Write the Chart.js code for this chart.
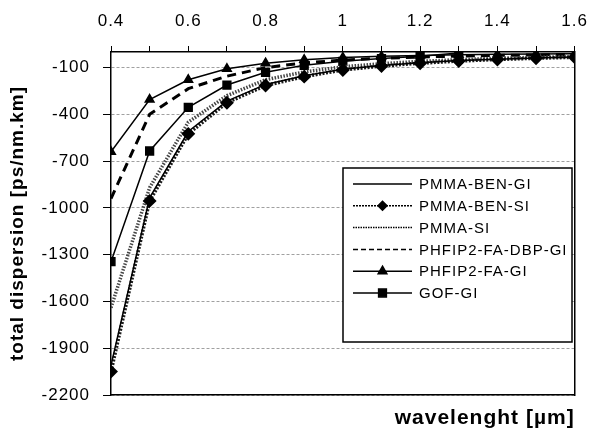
<!DOCTYPE html>
<html>
<head>
<meta charset="utf-8">
<script src="https://cdn.jsdelivr.net/npm/chart.js@4"></script>
<style>
    html, body { margin: 0; padding: 0; background: #fff; }
    #wrap { width: 602px; height: 435px; }
</style>
</head>
<body>
<div id="wrap"><canvas id="dispersionChart" width="602" height="435"></canvas></div>
<script>
// wavelength in µm, dispersion in ps/nm.km
const wavelengths = [0.4, 0.5, 0.6, 0.7, 0.8, 0.9, 1.0, 1.1, 1.2, 1.3, 1.4, 1.5, 1.6];
const pmmaBenGi = [-2010, -935, -510, -315, -208, -152, -110, -86, -69, -55, -46, -38, -32];
const pmmaBenSi = [-2050, -955, -525, -325, -215, -158, -115, -90, -72, -58, -48, -40, -34];
const pmmaSi = [-1640, -870, -450, -280, -178, -128, -95, -75, -60, -49, -40, -34, -29];
const phfipDbpGi = [-940, -400, -235, -155, -100, -70, -52, -40, -32, -26, -22, -19, -16];
const phfipFaGi = [-640, -305, -178, -108, -72, -50, -36, -28, -22, -18, -15, -13, -11];
const gofGi = [-1345, -635, -355, -212, -130, -85, -60, -42, -28, -6, null, null, null];

const xTickLabels = ["0.4", "0.6", "0.8", "1", "1.2", "1.4", "1.6"];
const yTickValues = [-2200, -1900, -1600, -1300, -1000, -700, -400, -100];

const FONT = "'Liberation Sans', Arial, sans-serif";

function toPoints(values) {
    return wavelengths
        .map((w, i) => ({ x: w, y: values[i] }))
        .filter((p) => p.y !== null);
}

// legend drawn inside the plot, like the original box
const boxLegend = {
    id: "boxLegend",
    afterDraw(chart) {
        const ctx = chart.ctx;
        ctx.save();
        ctx.letterSpacing = "1px";
        ctx.fillStyle = "#fff";
        ctx.fillRect(343, 168, 229, 174);
        ctx.strokeStyle = "#000";
        ctx.lineWidth = 1.5;
        ctx.strokeRect(343, 168, 229, 174);

        chart.data.datasets.forEach((ds, i) => {
            const y = 184 + i * 21.8;
            ctx.save();
            ctx.strokeStyle = "#000";
            ctx.lineWidth = ds.legendWidth || 1.5;
            ctx.setLineDash(ds.legendDash || []);
            ctx.beginPath();
            ctx.moveTo(353, y);
            ctx.lineTo(412, y);
            ctx.stroke();
            ctx.restore();
            if (ds.pointRadius > 0) {
                ctx.fillStyle = "#000";
                ctx.strokeStyle = "#000";
                Chart.helpers.drawPoint(ctx, {
                    pointStyle: ds.pointStyle,
                    radius: ds.pointRadius,
                    rotation: 0,
                    borderWidth: 1,
                }, 382.5, y);
            }
            ctx.fillStyle = "#000";
            ctx.font = "15px " + FONT;
            ctx.textAlign = "left";
            ctx.textBaseline = "middle";
            ctx.fillText(ds.label, 419, y + 1);
        });
        ctx.restore();
    },
};

const spacing = {
    id: "spacing",
    beforeLayout(chart) { chart.ctx.letterSpacing = "1px"; },
    beforeDraw(chart) { chart.ctx.letterSpacing = "1px"; },
};

const ctx = document.getElementById("dispersionChart");
new Chart(ctx, {
    type: "line",
    data: {
        datasets: [
            {
                label: "PMMA-BEN-GI",
                data: toPoints(pmmaBenGi),
                borderColor: "#000",
                borderWidth: 1.5,
                pointRadius: 0,
            },
            {
                label: "PMMA-BEN-SI",
                data: toPoints(pmmaBenSi),
                borderColor: "#1a1a1a",
                borderWidth: 3.5,
                borderDash: [2, 1.5],
                pointStyle: "rectRot",
                pointRadius: 4.5,
                pointBackgroundColor: "#000",
                pointBorderColor: "#000",
                legendDash: [2, 1],
            },
            {
                label: "PMMA-SI",
                data: toPoints(pmmaSi),
                borderColor: "#444",
                borderWidth: 3.5,
                borderDash: [1.5, 1.5],
                pointRadius: 0,
                legendDash: [1.5, 1],
            },
            {
                label: "PHFIP2-FA-DBP-GI",
                data: toPoints(phfipDbpGi),
                borderColor: "#000",
                borderWidth: 3,
                borderDash: [9, 6],
                pointRadius: 0,
                legendDash: [5, 3],
            },
            {
                label: "PHFIP2-FA-GI",
                data: toPoints(phfipFaGi),
                borderColor: "#000",
                borderWidth: 1.5,
                pointStyle: "triangle",
                pointRadius: 5,
                pointBackgroundColor: "#000",
                pointBorderColor: "#000",
            },
            {
                label: "GOF-GI",
                data: toPoints(gofGi),
                borderColor: "#000",
                borderWidth: 1.5,
                pointStyle: "rect",
                pointRadius: 5.5,
                pointBackgroundColor: "#000",
                pointBorderColor: "#000",
            },
        ],
    },
    options: {
        responsive: false,
        animation: false,
        devicePixelRatio: 1,
        layout: { padding: 0 },
        elements: { line: { tension: 0, fill: false } },
        plugins: {
            legend: { display: false },
            tooltip: { enabled: false },
        },
        scales: {
            x: {
                type: "linear",
                position: "top",
                min: 0.4,
                max: 1.6,
                afterBuildTicks: (axis) => {
                    axis.ticks = wavelengths.map((v) => ({ value: v }));
                },
                afterFit: (axis) => { axis.height = 52; },
                grid: {
                    drawOnChartArea: false,
                    color: "#000",
                    tickLength: 6,
                    lineWidth: 1,
                },
                border: { color: "#000", width: 1.5 },
                ticks: {
                    autoSkip: false,
                    maxRotation: 0,
                    padding: 14,
                    color: "#000",
                    font: { family: FONT, size: 17 },
                    callback: (value) => {
                        const s = String(Math.round(value * 10) / 10);
                        return xTickLabels.includes(s) ? s : "";
                    },
                },
            },
            x2: {
                type: "linear",
                position: "bottom",
                min: 0.4,
                max: 1.6,
                afterFit: (axis) => { axis.height = 40; },
                grid: { display: false },
                border: { display: true, color: "#000", width: 1.5 },
                ticks: { display: false },
                title: {
                    display: true,
                    text: "wavelenght [µm]",
                    align: "end",
                    color: "#000",
                    font: { family: FONT, size: 21, weight: "bold" },
                    padding: { top: 0, bottom: 4 },
                },
            },
            y: {
                type: "linear",
                position: "left",
                min: -2200,
                max: 0,
                afterBuildTicks: (axis) => {
                    axis.ticks = yTickValues.map((v) => ({ value: v }));
                },
                afterFit: (axis) => { axis.width = 111; },
                grid: {
                    color: "#a0a0a0",
                    lineWidth: 1,
                    tickColor: "#000",
                    tickLength: 8,
                },
                border: { color: "#000", width: 1.5, dash: [3, 2] },
                ticks: {
                    padding: 13,
                    color: "#000",
                    font: { family: FONT, size: 17 },
                    callback: (value) => String(value),
                },
                title: {
                    display: true,
                    text: "total dispersion [ps/nm.km]",
                    color: "#000",
                    font: { family: FONT, size: 19, weight: "bold" },
                    padding: { top: 6, bottom: 0 },
                },
            },
            y2: {
                type: "linear",
                position: "right",
                min: -2200,
                max: 0,
                afterFit: (axis) => { axis.width = 18; },
                grid: { display: false },
                border: { display: true, color: "#000", width: 1.5 },
                ticks: { display: false },
            },
        },
    },
    plugins: [spacing, boxLegend],
});
</script>
</body>
</html>
